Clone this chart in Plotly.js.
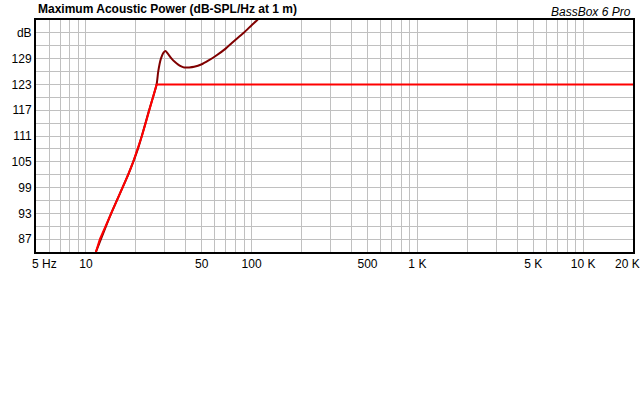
<!DOCTYPE html>
<html>
<head>
<meta charset="utf-8">
<script src="https://cdn.plot.ly/plotly-3.0.1.min.js"></script>
<style>
  html, body { margin: 0; padding: 0; background: #fff; }
  #chart { width: 643px; height: 400px; }
</style>
</head>
<body>
<div id="chart"></div>
<script>
// excursion-limited max power (red), Hz / dB
const redFreq = [11.49, 12.15, 13.15, 14.21, 15.45, 16.77, 18.0, 19.3, 20.6, 21.78, 22.93, 24.06, 25.37, 26.71, 20000];
const redDb   = [84, 87, 90, 93, 96, 99, 102, 105, 108, 111, 114, 117, 120, 123, 123];

// thermal-limited max power (dark red), Hz / dB
const darkFreq = [11.49, 14.21, 18.0, 20.6, 24.06, 26.71, 27.31, 28.35, 29.4, 30.27, 31.3, 32.9, 34.5, 36.06, 37.6,
                  39.2, 42, 45, 50, 55, 60, 70, 80, 90, 100, 108.1, 115];
const darkDb   = [84, 93, 102, 108, 117, 123, 126, 129, 130.4, 130.8, 130.1, 129, 128.2, 127.6, 127.2,
                  126.95, 126.95, 127.1, 127.7, 128.6, 129.5, 131.4, 133.4, 135.1, 136.8, 138, 139.3];

// grid positions and labels
const xTickVals = [5, 6, 7, 8, 9, 10, 20, 30, 40, 50, 60, 70, 80, 90, 100,
                   200, 300, 400, 500, 600, 700, 800, 900, 1000,
                   2000, 3000, 4000, 5000, 6000, 7000, 8000, 9000, 10000, 20000];
const xTickText = ['\u00a0\u00a0\u00a0\u00a0\u00a05 Hz', '', '', '', '', '10', '', '', '', '50', '', '', '', '', '100',
                   '', '', '', '500', '', '', '', '', '1 K',
                   '', '', '', '5 K', '', '', '', '', '10 K', '20 K'];
const yTickVals = [84, 87, 90, 93, 96, 99, 102, 105, 108, 111, 114, 117, 120, 123, 126, 129, 132, 135, 138];
const yTickText = ['', '87', '', '93', '', '99', '', '105', '', '111', '', '117', '', '123', '', '129', '', 'dB', ''];

// last label sits on the window edge, so it is drawn as a right-anchored note
const lastLabel = xTickText[xTickText.length - 1];
const axisTickText = xTickText.slice(0, -1).concat(['']);

const traces = [
    {x: darkFreq, y: darkDb, mode: 'lines', line: {color: '#800000', width: 2, shape: 'spline', smoothing: 0.6}, showlegend: false, hoverinfo: 'skip'},
    {x: redFreq, y: redDb, mode: 'lines', line: {color: '#ff0000', width: 2}, showlegend: false, hoverinfo: 'skip'}
];

const font = 'Arial, "Liberation Sans", sans-serif';

const layout = {
    width: 643,
    height: 400,
    margin: {l: 36, r: 10, t: 20, b: 148},
    paper_bgcolor: '#ffffff',
    plot_bgcolor: '#ffffff',
    font: {family: font, size: 12, color: '#000000'},
    xaxis: {
        type: 'log',
        range: [Math.log10(5), Math.log10(20000)],
        tickvals: xTickVals,
        ticktext: axisTickText,
        ticks: '',
        showgrid: true,
        gridcolor: '#c0c0c0',
        gridwidth: 1,
        showline: true,
        linecolor: '#000000',
        linewidth: 2,
        mirror: true,
        zeroline: false,
        tickangle: 0,
        tickfont: {family: font, size: 12, color: '#000000'}
    },
    yaxis: {
        range: [84, 138],
        tickvals: yTickVals,
        ticktext: yTickText,
        ticks: '',
        showgrid: true,
        gridcolor: '#c0c0c0',
        gridwidth: 1,
        showline: true,
        linecolor: '#000000',
        linewidth: 2,
        mirror: true,
        zeroline: false,
        tickfont: {family: font, size: 12, color: '#000000'}
    },
    annotations: [
        {text: '<b>Maximum Acoustic Power (dB-SPL/Hz at 1 m)</b>', xref: 'paper', yref: 'paper',
         x: 0, y: 1, xanchor: 'left', yanchor: 'bottom', yshift: 2, showarrow: false,
         font: {family: font, size: 12, color: '#000000'}},
        {text: '<i>BassBox 6 Pro</i>', xref: 'paper', yref: 'paper',
         x: 1, y: 1, xanchor: 'right', yanchor: 'bottom', yshift: -1, showarrow: false,
         font: {family: font, size: 12, color: '#000000'}},
        {text: lastLabel, xref: 'paper', yref: 'paper',
         x: 1, y: 0, xanchor: 'right', yanchor: 'middle', xshift: 8, yshift: -12, showarrow: false,
         borderpad: 0, font: {family: font, size: 12, color: '#000000'}}
    ]
};

Plotly.newPlot('chart', traces, layout, {staticPlot: true, displayModeBar: false});
</script>
</body>
</html>
